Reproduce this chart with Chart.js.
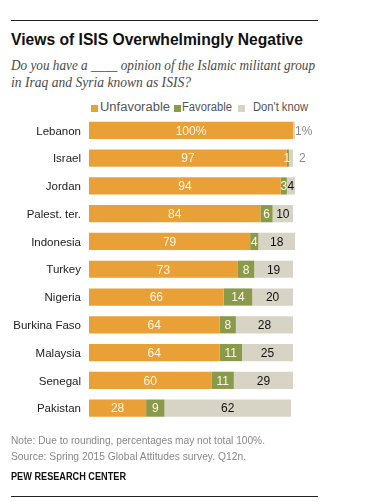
<!DOCTYPE html>
<html>
<head>
<meta charset="utf-8">
<script src="https://cdn.jsdelivr.net/npm/chart.js@4/dist/chart.umd.min.js"></script>
<style>
  html, body { margin: 0; padding: 0; background: #fff; }
  #wrap { position: relative; width: 369px; height: 502px; overflow: hidden; font-family: "Liberation Sans", Arial, sans-serif; }
  .t { position: absolute; white-space: nowrap; transform-origin: 0 0; }
  .rule { position: absolute; left: 11px; width: 307px; height: 1px; background: #222; }
  #chartBox { position: absolute; left: 0; top: 0; width: 369px; height: 502px; }
  .sw { position: absolute; width: 7px; height: 7px; top: 105px; }
  .lg { top: 101px; font-size: 12px; line-height: 12px; color: #555; }
</style>
</head>
<body>
<div id="wrap">
  <div class="rule" style="top:20px"></div>
  <div class="t" data-w="292" style="left:11px;top:31px;font-size:17px;line-height:17px;font-weight:bold;color:#111">Views of ISIS Overwhelmingly Negative</div>
  <div class="t" data-w="304" style="left:11px;top:57px;font-size:14px;line-height:17px;font-style:italic;font-family:'Liberation Serif',serif;color:#4a4a4a">Do you have a ____ opinion of the Islamic militant group</div>
  <div class="t" data-w="180" style="left:11px;top:74px;font-size:14px;line-height:17px;font-style:italic;font-family:'Liberation Serif',serif;color:#4a4a4a">in Iraq and Syria known as ISIS?</div>

  <div class="sw" style="left:91px;background:#E9A037"></div>
  <div class="t lg" data-w="70" style="left:100px">Unfavorable</div>
  <div class="sw" style="left:174px;background:#8A9A4B"></div>
  <div class="t lg" data-w="50" style="left:182px">Favorable</div>
  <div class="sw" style="left:238px;background:#D7D4C6"></div>
  <div class="t lg" data-w="55" style="left:253px">Don't know</div>

  <div id="chartBox"><canvas id="myChart"></canvas></div>

  <div class="t" data-w="254" style="left:11px;top:435px;font-size:11px;line-height:11px;color:#888">Note: Due to rounding, percentages may not total 100%.</div>
  <div class="t" data-w="235" style="left:11px;top:451px;font-size:11px;line-height:11px;color:#888">Source: Spring 2015 Global Attitudes survey. Q12n.</div>
  <div class="t" data-w="115" style="left:11px;top:472px;font-size:10px;line-height:10px;font-weight:bold;color:#111">PEW RESEARCH CENTER</div>
  <div class="rule" style="top:496px"></div>
</div>

<script>
const countries = ['Lebanon', 'Israel', 'Jordan', 'Palest. ter.', 'Indonesia', 'Turkey',
                   'Nigeria', 'Burkina Faso', 'Malaysia', 'Senegal', 'Pakistan'];
const unfavorable = [100, 97, 94, 84, 79, 73, 66, 64, 64, 60, 28];
const favorable   = [0, 1, 3, 6, 4, 8, 14, 8, 11, 11, 9];
const dontKnow    = [1, 2, 4, 10, 18, 19, 20, 28, 25, 29, 62];

// squeeze the text lines to the width they have in the original
document.querySelectorAll('.t[data-w]').forEach(el => {
  const w = el.getBoundingClientRect().width;
  const target = +el.dataset.w;
  el.style.transform = 'scaleX(' + (target / w) + ')';
});

// country names + numbers on the bars
const barText = {
  id: 'barText',
  afterDatasetsDraw(chart) {
    const ctx = chart.ctx;
    const y = chart.scales.y;
    ctx.save();
    ctx.textBaseline = 'middle';
    ctx.font = '11.5px "Liberation Sans", Arial, sans-serif';
    ctx.fillStyle = '#222';
    ctx.textAlign = 'right';
    countries.forEach((c, i) => ctx.fillText(c, 81, y.getPixelForValue(i) + 1));

    ctx.font = '12px "Liberation Sans", Arial, sans-serif';
    chart.data.datasets.forEach((ds, di) => {
      chart.getDatasetMeta(di).data.forEach((bar, i) => {
        const v = ds.data[i];
        if (!v) return;
        let txt = String(v);
        if (i == 0) txt += '%';
        const yy = bar.y + 1;
        if (di == 2 && v <= 2) {
          ctx.fillStyle = '#888';
          ctx.textAlign = 'left';
          ctx.fillText(txt, bar.x + (i == 0 ? 0 : 6), yy);
          return;
        }
        ctx.fillStyle = di == 2 ? '#111' : '#FFF6E6';
        ctx.textAlign = 'center';
        let cx = (bar.x + bar.base) / 2;
        if (di == 1 && v == 1) cx = bar.base;
        ctx.fillText(txt, cx, yy);
      });
    });
    ctx.restore();
  }
};

const ctx = document.getElementById('myChart');
new Chart(ctx, {
  type: 'bar',
  data: {
    labels: countries,
    datasets: [
      { label: 'Unfavorable', data: unfavorable, backgroundColor: '#E9A037' },
      { label: 'Favorable', data: favorable, backgroundColor: '#8A9A4B' },
      { label: "Don't know", data: dontKnow, backgroundColor: '#D7D4C6' }
    ]
  },
  options: {
    indexAxis: 'y',
    responsive: true,
    maintainAspectRatio: false,
    animation: false,
    devicePixelRatio: 1,
    datasets: { bar: { barPercentage: 0.62, categoryPercentage: 1, borderWidth: 0, clip: false } },
    layout: { padding: { left: 89, right: 76, top: 116.5, bottom: 80 } },
    scales: {
      x: { stacked: true, min: 0, max: 100, display: false },
      y: { stacked: true, display: false }
    },
    plugins: { legend: { display: false }, tooltip: { enabled: false } }
  },
  plugins: [barText]
});
</script>
</body>
</html>
